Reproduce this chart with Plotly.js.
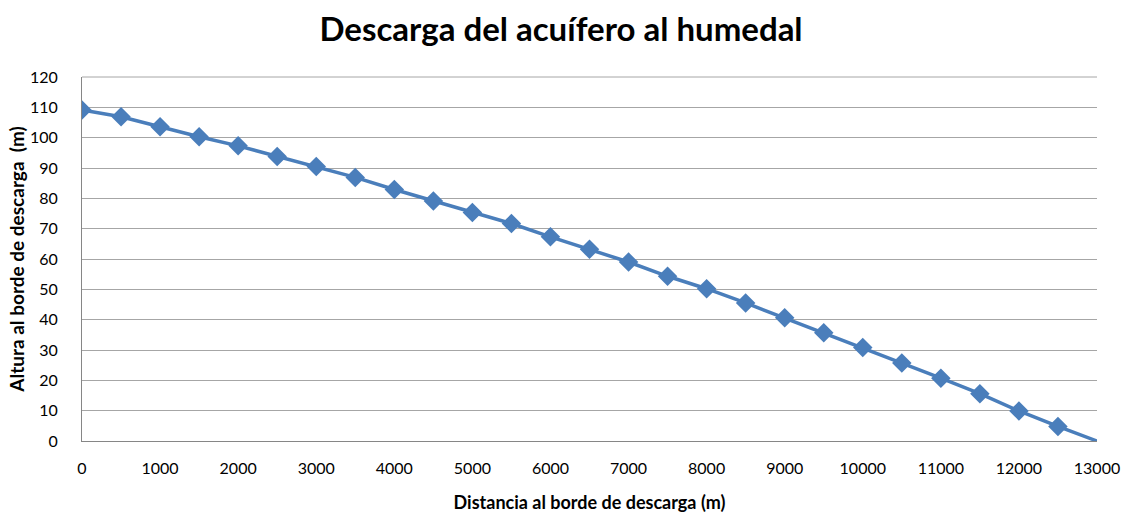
<!DOCTYPE html>
<html>
<head>
<meta charset="utf-8">
<script src="https://cdn.plot.ly/plotly-3.0.1.min.js"></script>
<style>html,body{margin:0;padding:0;background:#fff;}#chart{width:1122px;height:513px;}</style>
</head>
<body>
<div id="chart"></div>
<script>
const distancia = [0,500,1000,1500,2000,2500,3000,3500,4000,4500,5000,5500,6000,6500,7000,7500,8000,8500,9000,9500,10000,10500,11000,11500,12000,12500,13000];
const altura = [109.1,106.9,103.6,100.3,97.3,93.8,90.5,86.9,82.9,79.1,75.3,71.7,67.3,63.2,59.0,54.3,50.2,45.5,40.6,35.7,30.8,25.7,20.7,15.6,9.9,4.8,0];
const tituloGrafico = "Descarga del acuífero al humedal";
const tituloX = "Distancia al borde de descarga (m)";
const tituloY = "Altura al borde de descarga  (m)";

const markerSizes = distancia.map((d, i) => i === distancia.length - 1 ? 0 : 15);

const trace = {
  x: distancia,
  y: altura,
  type: 'scatter',
  mode: 'lines+markers',
  line: {color: '#4a7ebb', width: 3.5},
  marker: {symbol: 'diamond', size: markerSizes, color: '#4a7ebb', opacity: 1, line: {width: 0}},
  hoverinfo: 'x+y'
};

const fam = 'Lato, "Open Sans", sans-serif';
const tickFont = {family: fam, size: 16, color: '#000'};

const layout = {
  width: 1122, height: 513,
  margin: {l: 82, r: 25, t: 77, b: 72},
  paper_bgcolor: '#fff', plot_bgcolor: '#fff',
  showlegend: false,
  title: {text: tituloGrafico, x: 0.5, xanchor: 'center', y: 0.942, yanchor: 'middle',
          font: {family: fam, size: 33, color: '#000', weight: 'bold'}},
  xaxis: {
    range: [0, 13000], dtick: 1000, tick0: 0, tickformat: 'd',
    showgrid: false, zeroline: false,
    showline: true, linecolor: '#868686', linewidth: 1,
    ticks: '', tickfont: tickFont, ticklabelstandoff: 13,
    title: {text: tituloX, standoff: 20, font: {family: fam, size: 18, color: '#000', weight: 'bold'}}
  },
  yaxis: {
    range: [0, 120], dtick: 10, tick0: 0, tickformat: 'd',
    showgrid: true, gridcolor: '#a6a6a6', gridwidth: 1,
    zeroline: false,
    showline: true, linecolor: '#868686', linewidth: 1,
    ticks: '', tickfont: tickFont, ticklabelstandoff: 20,
    title: {text: tituloY, standoff: 0, font: {family: fam, size: 19, color: '#000', weight: 'bold'}}
  },
  shapes: [{type: 'line', xref: 'paper', yref: 'paper', x0: 0, x1: 1, y0: 1, y1: 1, line: {color: '#a6a6a6', width: 1}}]
};

Plotly.newPlot('chart', [trace], layout, {displayModeBar: false, staticPlot: true});
</script>
</body>
</html>
